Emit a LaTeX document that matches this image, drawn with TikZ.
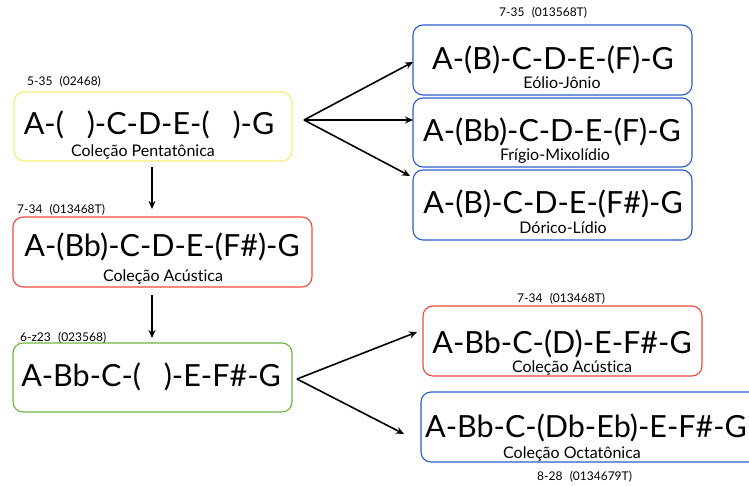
\documentclass[tikz,border=0pt]{standalone}
\usepackage{fontspec}
\setmainfont{Lato}[Ligatures=NoCommon]
\usetikzlibrary{arrows.meta}
\definecolor{cyel}{HTML}{F2EE7A}
\definecolor{cred}{HTML}{EE4A3C}
\definecolor{cgreen}{HTML}{6DB33F}
\definecolor{cblue}{HTML}{2A5BD0}
\newcommand{\gapp}{\hspace{0.75em}}
\tikzset{
  box/.style={draw, line width=1.1pt, rounded corners=10pt},
  main/.style={anchor=base, inner sep=0pt, font=\fontsize{30.5}{32}\selectfont},
  sub/.style={anchor=base, inner sep=0pt, font=\fontsize{16}{18}\selectfont},
  tag/.style={anchor=base west, inner sep=0pt, font=\fontsize{12}{14}\selectfont},
  link/.style={line width=1.6pt, -{Stealth[length=8pt,width=7pt]}},
}
\begin{document}
\begin{tikzpicture}[x=1pt,y=-1pt]
\useasboundingbox (0,0) rectangle (749,486);

% left column
\draw[box, cyel] (14,92) rectangle (292,161);
\node[main] (penta) at (149,135) {A-(\gapp)-C-D-E-(\gapp)-G};
\node[sub] (pentaL) at (143,157) {Coleção Pentatônica};
\node[tag] (pentaT) at (27,86) {5-35\hspace{0.6em}(02468)};

\draw[box, cred] (13,217) rectangle (312,287);
\node[main] (acL) at (162,257) {A-(Bb)-C-D-E-(F\#)-G};
\node[sub] (acLL) at (163,281) {Coleção Acústica};
\node[tag] (acLT) at (17,214) {7-34\hspace{0.6em}(013468T)};

\draw[box, cgreen] (13,343) rectangle (292,412);
\node[main] (hex) at (151,386) {A-Bb-C-(\gapp)-E-F\#-G};
\node[tag] (hexT) at (20,341) {6-z23\hspace{0.6em}(023568)};

% right column, upper group
\draw[box, cblue] (413,25) rectangle (692,95);
\node[main] (eol) at (553,70) {A-(B)-C-D-E-(F)-G};
\node[sub] (eolL) at (562,88.5) {Eólio-Jônio};
\node[tag] (eolT) at (499,17) {7-35\hspace{0.6em}(013568T)};

\draw[box, cblue] (413,98) rectangle (692,167);
\node[main] (fri) at (552,142) {A-(Bb)-C-D-E-(F)-G};
\node[sub] (friL) at (555,161) {Frígio-Mixolídio};

\draw[box, cblue] (413,170) rectangle (692,240);
\node[main] (dor) at (553,214) {A-(B)-C-D-E-(F\#)-G};
\node[sub] (dorL) at (563,234) {Dórico-Lídio};

% right column, lower group
\draw[box, cred] (423,306) rectangle (702,376);
\node[main] (acR) at (562,353) {A-Bb-C-(D)-E-F\#-G};
\node[sub] (acRL) at (572,372) {Coleção Acústica};
\node[tag] (acRT) at (517,302) {7-34\hspace{0.6em}(013468T)};

\draw[box, cblue] (421,392) rectangle (760,462);
\node[main] (oct) at (586,437) {A-Bb-C-(Db-Eb)-E-F\#-G};
\node[sub] (octL) at (572,458) {Coleção Octatônica};
\node[tag] (octT) at (537,480) {8-28\hspace{0.6em}(0134679T)};

% connectors
\coordinate (f1) at (304,120);
\coordinate (e1) at (413,62);
\coordinate (e2) at (413,120);
\coordinate (e3) at (410,176);
\draw[link] (f1) -- (e1);
\draw[link] (f1) -- (e2);
\draw[link] (f1) -- (e3);

\coordinate (v1a) at (152,167);
\coordinate (v1b) at (152,209);
\coordinate (v2a) at (152,295);
\coordinate (v2b) at (152,338);
\draw[link] (v1a) -- (v1b);
\draw[link] (v2a) -- (v2b);

\coordinate (f2) at (297,379);
\coordinate (e4) at (417,332);
\coordinate (e5) at (404,434);
\draw[link] (f2) -- (e4);
\draw[link] (f2) -- (e5);
\end{tikzpicture}
\end{document}
